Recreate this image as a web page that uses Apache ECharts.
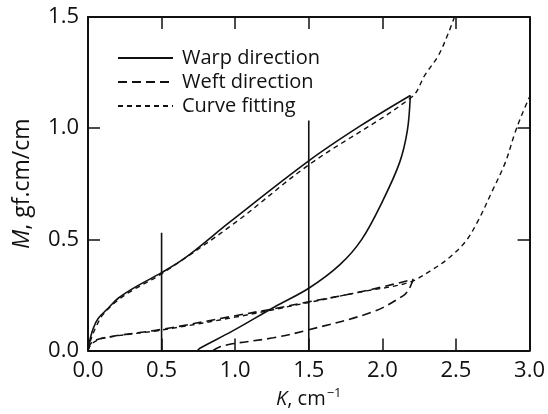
<!DOCTYPE html>
<html>
<head>
<meta charset="utf-8">
<script src="https://cdn.jsdelivr.net/npm/echarts@6/dist/echarts.min.js"></script>
<style>html,body{margin:0;padding:0;background:#fff}#c{width:548px;height:414px}</style>
</head>
<body>
<div id="c"></div>
<script>
// Tick labels
var xTicks = ['0.0','0.5','1.0','1.5','2.0','2.5','3.0'];
var yTicks = ['0.0','0.5','1.0','1.5'];

// Warp direction (solid): loading branch
var warpLoadK = [0, 0.01, 0.036, 0.07, 0.137, 0.205, 0.318, 0.5, 0.657, 0.973, 1.5, 1.85, 2.19];
var warpLoadM = [0, 0.04, 0.10, 0.145, 0.19, 0.235, 0.284, 0.35, 0.415, 0.583, 0.853, 1.01, 1.147];
// Warp direction: unloading branch
var warpUnloadK = [2.19, 2.17, 2.117, 2.0, 1.86, 1.71, 1.5, 1.27, 0.98, 0.76, 0.745];
var warpUnloadM = [1.147, 0.99, 0.845, 0.67, 0.50, 0.385, 0.28, 0.197, 0.087, 0.01, 0];

// Weft direction (long dashes)
var weftLoadK = [0, 0.025, 0.115, 0.5, 0.973, 1.28, 1.5, 1.84, 2.21];
var weftLoadM = [0, 0.036, 0.058, 0.095, 0.153, 0.19, 0.219, 0.262, 0.32];
var weftUnloadK = [2.21, 2.18, 2.14, 1.94, 1.5, 1.26, 0.98, 0.89, 0.85];
var weftUnloadM = [0.32, 0.275, 0.246, 0.175, 0.093, 0.057, 0.03, 0.015, 0];

// Curve fitting (short dashes)
var fitWarpK = [0, 0.02, 0.05, 0.1, 0.2, 0.3, 0.5, 1.0, 1.5, 2.2, 2.29, 2.38, 2.45, 2.49];
var fitWarpM = [0, 0.05, 0.1, 0.16, 0.225, 0.27, 0.345, 0.575, 0.835, 1.14, 1.24, 1.326, 1.43, 1.5];
var fitWeftK = [0, 0.025, 0.1, 0.5, 1.0, 1.5, 1.84, 2.18, 2.34, 2.45, 2.565, 2.65, 2.745, 2.835, 2.9, 2.95, 3.0];
var fitWeftM = [0, 0.03, 0.055, 0.092, 0.15, 0.216, 0.262, 0.306, 0.364, 0.415, 0.49, 0.583, 0.715, 0.845, 0.977, 1.064, 1.14];

// Vertical marker lines
var vLine1K = [0.5, 0.5], vLine1M = [0, 0.53];
var vLine2K = [1.5, 1.5], vLine2M = [0, 1.035];

function zip(a, b) { return a.map(function (v, i) { return [v, b[i]]; }); }

var FONT = 'Open Sans';
var INK = '#111';
var solid = { color: INK, width: 1.6, type: 'solid' };
var weftStyle = { color: INK, width: 1.6, type: [9, 5] };
var fitStyle = { color: INK, width: 1.4, type: [5, 4] };

function line(name, k, m, style, smooth) {
  return {
    name: name, type: 'line', data: zip(k, m), symbol: 'none',
    smooth: smooth === undefined ? 0.35 : smooth,
    lineStyle: style, itemStyle: { color: INK }, silent: true, animation: false,
    xAxisIndex: 0, yAxisIndex: 0, clip: true
  };
}

var tick = { show: true, inside: true, length: 12, lineStyle: { color: INK, width: 1.5 } };
var aLine = { show: true, onZero: false, lineStyle: { color: INK, width: 2 } };

var chart = echarts.init(document.getElementById('c'), null, { renderer: 'canvas' });
chart.setOption({
  backgroundColor: '#fff',
  animation: false,
  textStyle: { fontFamily: FONT },
  grid: { left: 88, right: 17, top: 17, bottom: 54, containLabel: false },
  legend: {
    show: true, orient: 'vertical', left: 112, top: 41, align: 'left',
    itemWidth: 55, itemHeight: 14, itemGap: 0,
    itemStyle: { opacity: 0 },
    data: ['Warp direction', 'Weft direction', 'Curve fitting'],
    textStyle: { fontFamily: FONT, fontSize: 20, color: INK, lineHeight: 24, padding: [0, 0, 0, 4] },
    selectedMode: false
  },
  xAxis: [
    {
      type: 'value', min: 0, max: 3, interval: 0.5, position: 'bottom',
      axisLine: aLine, axisTick: tick,
      axisLabel: { margin: 9, fontSize: 22, color: INK, fontFamily: FONT,
        formatter: function (v) { return xTicks[Math.round(v / 0.5)]; } },
      splitLine: { show: false },
      name: '{i|K}, cm{sup|\u22121}', nameLocation: 'middle', nameGap: 36,
      nameTextStyle: { fontSize: 20, color: INK, fontFamily: FONT,
        rich: { i: { fontSize: 20, fontStyle: 'italic', fontFamily: FONT, color: INK },
                sup: { fontSize: 13, fontFamily: FONT, color: INK, padding: [0, 0, 12, 1] } } }
    },
    {
      type: 'value', min: 0, max: 3, interval: 0.5, position: 'top',
      axisLine: aLine, axisTick: tick,
      axisLabel: { show: false }, splitLine: { show: false }
    }
  ],
  yAxis: [
    {
      type: 'value', min: 0, max: 1.5, interval: 0.5, position: 'left',
      axisLine: aLine, axisTick: tick,
      axisLabel: { margin: 9, fontSize: 22, color: INK, fontFamily: FONT,
        formatter: function (v) { return yTicks[Math.round(v / 0.5)]; } },
      splitLine: { show: false },
      name: '{i|M}, gf.cm/cm', nameLocation: 'middle', nameGap: 54, nameRotate: 90,
      nameTextStyle: { fontSize: 23, color: INK, fontFamily: FONT,
        rich: { i: { fontSize: 23, fontStyle: 'italic', fontFamily: FONT, color: INK } } }
    },
    {
      type: 'value', min: 0, max: 1.5, interval: 0.5, position: 'right',
      axisLine: aLine, axisTick: tick,
      axisLabel: { show: false }, splitLine: { show: false }
    }
  ],
  series: [
    line('Warp direction', warpLoadK, warpLoadM, solid),
    line('Warp direction', warpUnloadK, warpUnloadM, solid),
    line('Weft direction', weftLoadK, weftLoadM, weftStyle),
    line('Weft direction', weftUnloadK, weftUnloadM, weftStyle),
    line('Curve fitting', fitWarpK, fitWarpM, fitStyle),
    line('Curve fitting', fitWeftK, fitWeftM, fitStyle),
    line('v1', vLine1K, vLine1M, solid, false),
    line('v2', vLine2K, vLine2M, solid, false)
  ]
});
</script>
</body>
</html>
